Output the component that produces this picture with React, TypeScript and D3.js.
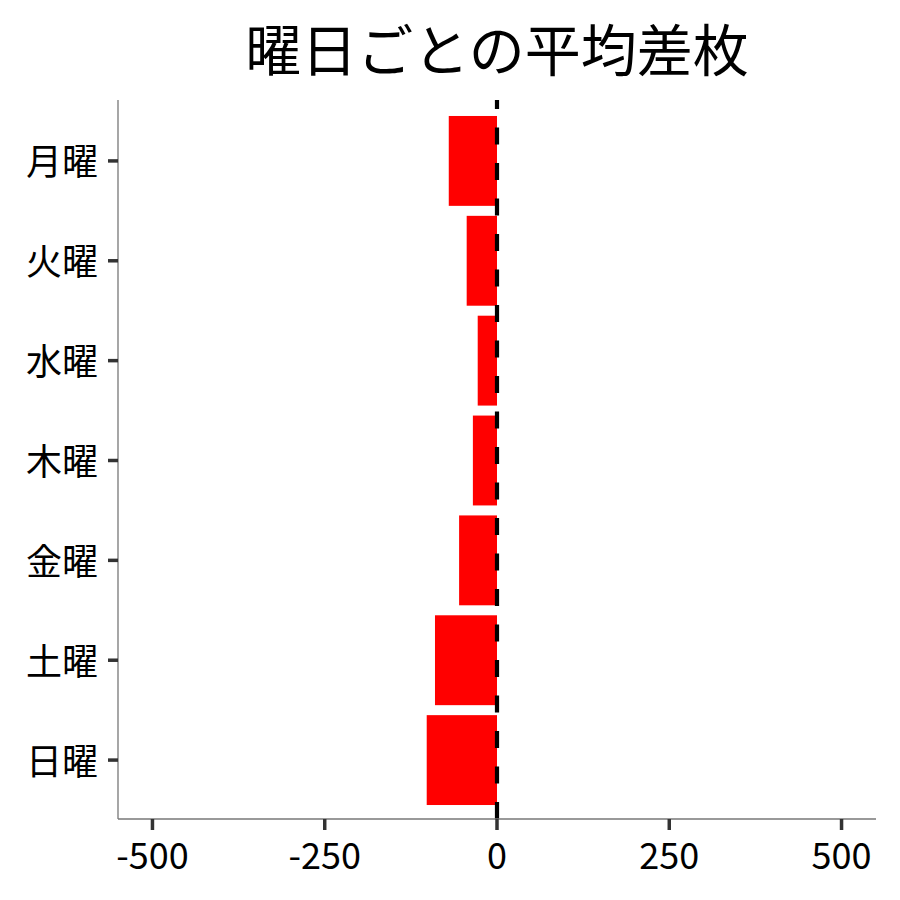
import { useEffect, useRef } from "react";
import * as d3 from "d3";

// 曜日ごとのデータ
const days: string[] = ["月曜", "火曜", "水曜", "木曜", "金曜", "土曜", "日曜"];
const avgDiff: number[] = [-70, -44, -28, -35, -55, -90, -102];
const xTicks: number[] = [-500, -250, 0, 250, 500];
const title = "曜日ごとの平均差枚";

const App: React.FC = () => {
  const ref = useRef<SVGSVGElement>(null);

  useEffect(() => {
    const width = 900;
    const height = 900;
    const left = 118;
    const right = 876;
    const top = 101;
    const bottom = 819;
    const font = "'Noto Sans CJK JP', 'Noto Sans', sans-serif";

    const svg = d3.select(ref.current);
    svg.selectAll("*").remove();
    svg.attr("width", width).attr("height", height);

    const x = d3.scaleLinear().domain([-550, 550]).range([left, right]);
    const y = d3
      .scaleBand<string>()
      .domain(days)
      .range([top, bottom + 1])
      .paddingInner(0.1)
      .paddingOuter(0.15);

    // バー
    svg
      .append("g")
      .selectAll("rect")
      .data(days)
      .join("rect")
      .attr("x", (_, i) => Math.min(x(avgDiff[i]), x(0)))
      .attr("y", (d) => y(d) as number)
      .attr("width", (_, i) => Math.abs(x(avgDiff[i]) - x(0)))
      .attr("height", y.bandwidth())
      .attr("fill", "#ff0000");

    // 0 の点線
    svg
      .append("line")
      .attr("x1", x(0))
      .attr("x2", x(0))
      .attr("y1", bottom)
      .attr("y2", top - 1)
      .attr("stroke", "#000")
      .attr("stroke-width", 4.2)
      .attr("stroke-dasharray", "17 18.5");

    // 軸線
    svg
      .append("line")
      .attr("x1", left)
      .attr("x2", left)
      .attr("y1", top - 1)
      .attr("y2", bottom)
      .attr("stroke", "#777")
      .attr("stroke-width", 1.3);
    svg
      .append("line")
      .attr("x1", left)
      .attr("x2", right)
      .attr("y1", bottom)
      .attr("y2", bottom)
      .attr("stroke", "#777")
      .attr("stroke-width", 1.3);

    // y 軸の目盛りとラベル
    const yg = svg.append("g");
    days.forEach((d) => {
      const cy = (y(d) as number) + y.bandwidth() / 2;
      yg.append("line")
        .attr("x1", left - 10)
        .attr("x2", left)
        .attr("y1", cy)
        .attr("y2", cy)
        .attr("stroke", "#333")
        .attr("stroke-width", 3.5);
      yg.append("text")
        .attr("x", left - 20)
        .attr("y", cy - 1.5)
        .attr("text-anchor", "end")
        .attr("dominant-baseline", "central")
        .attr("font-family", font)
        .attr("font-size", 36)
        .attr("fill", "#000")
        .text(d);
    });

    // x 軸の目盛りとラベル
    const xg = svg.append("g");
    xTicks.forEach((t) => {
      xg.append("line")
        .attr("x1", x(t))
        .attr("x2", x(t))
        .attr("y1", bottom)
        .attr("y2", bottom + 11)
        .attr("stroke", "#333")
        .attr("stroke-width", 3.5);
      xg.append("text")
        .attr("x", x(t))
        .attr("y", 869)
        .attr("text-anchor", "middle")
        .attr("font-family", font)
        .attr("font-size", 36)
        .attr("fill", "#000")
        .text(String(t));
    });

    // タイトル
    svg
      .append("text")
      .attr("x", (left + right) / 2)
      .attr("y", 46)
      .attr("text-anchor", "middle")
      .attr("dominant-baseline", "central")
      .attr("font-family", font)
      .attr("font-size", 56)
      .attr("fill", "#000")
      .text(title);
  }, []);

  return (
    <svg
      ref={ref}
      style={{ position: "absolute", left: 0, top: 0, background: "#fff" }}
    />
  );
};

export default App;
